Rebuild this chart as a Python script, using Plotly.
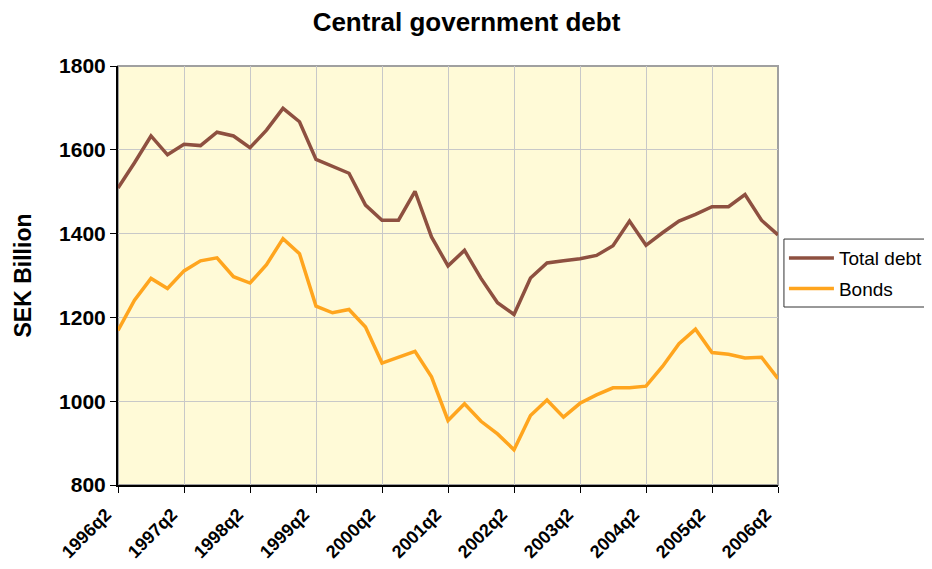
import plotly.graph_objects as go

quarters = [f"{y}q{q}" for y in range(1996, 2007) for q in range(1, 5)][1:42]

total_debt = [1509, 1569, 1633, 1588, 1613, 1610, 1642, 1633, 1605, 1647,
              1699, 1667, 1577, 1560, 1544, 1468, 1432, 1432, 1501, 1392,
              1323, 1360, 1293, 1235, 1207, 1294, 1330, 1335, 1340, 1348,
              1371, 1430, 1372, 1402, 1430, 1446, 1464, 1464, 1493, 1432,
              1397]

bonds = [1169, 1241, 1293, 1269, 1311, 1335, 1342, 1297, 1282, 1326,
         1388, 1352, 1227, 1211, 1219, 1177, 1091, 1105, 1119, 1058,
         954, 994, 952, 922, 884, 966, 1003, 962, 995, 1015,
         1032, 1032, 1036, 1083, 1137, 1172, 1116, 1112, 1103, 1105,
         1054]

tick_labels = quarters[::4]

fig = go.Figure()
fig.add_trace(go.Scatter(x=quarters, y=total_debt, name="Total debt", mode="lines",
                         legendgroup="a",
                         line=dict(color="#8E5040", width=3.5)))
fig.add_trace(go.Scatter(x=quarters, y=bonds, name="Bonds", mode="lines",
                         legendgroup="b",
                         line=dict(color="#FFA51E", width=3.5)))

font_main = "Liberation Sans, Arial, sans-serif"

# plot-area frame (gray top/right edges)
fig.add_shape(type="rect", xref="paper", yref="paper", x0=0, x1=1, y0=0, y1=1,
              line=dict(color="#A0A0A0", width=2), layer="below")
# legend frame
fig.add_shape(type="rect", xref="paper", yref="paper", x0=1.009, x1=1.2258,
              y0=0.4248, y1=0.587, line=dict(color="#333333", width=1),
              fillcolor="white", layer="below")

fig.update_layout(
    width=924, height=561,
    margin=dict(l=110, r=154, t=58, b=84, autoexpand=False),
    paper_bgcolor="white",
    plot_bgcolor="#FFFAD7",
    title=dict(text="<b>Central government debt</b>", x=0.4962, xanchor="center",
               y=0.975, yanchor="middle",
               font=dict(family=font_main, size=26, color="black")),
    font=dict(family=font_main, color="black"),
    showlegend=True,
    legend=dict(x=1.009, y=0.587, xanchor="left", yanchor="top",
                borderwidth=0, bgcolor="rgba(0,0,0,0)",
                font=dict(size=19, family=font_main, color="black"),
                itemwidth=45, tracegroupgap=3),
    xaxis=dict(
        type="category", range=[0, 40],
        tickmode="array", tickvals=tick_labels,
        ticktext=[f"<b>{t}</b>" for t in tick_labels],
        tickangle=-45,
        tickfont=dict(size=18, family=font_main),
        ticks="outside", ticklen=6, tickcolor="black",
        ticklabelstandoff=4, ticklabelshift=-12,
        automargin=False,
        showline=True, linecolor="black", linewidth=2,
        showgrid=True, gridcolor="#C8C8C8", gridwidth=1,
        zeroline=False,
    ),
    yaxis=dict(
        range=[800, 1800], dtick=200,
        tickfont=dict(size=21, family=font_main),
        tickprefix="<b>", ticksuffix="</b>",
        ticks="outside", ticklen=6, tickcolor="black",
        automargin=False,
        showline=True, linecolor="black", linewidth=2,
        showgrid=True, gridcolor="#C8C8C8", gridwidth=1,
        zeroline=False,
        title=dict(text="<b>SEK Billion</b>", font=dict(size=23, family=font_main),
                   standoff=21),
    ),
)

fig.write_html("out.html")
